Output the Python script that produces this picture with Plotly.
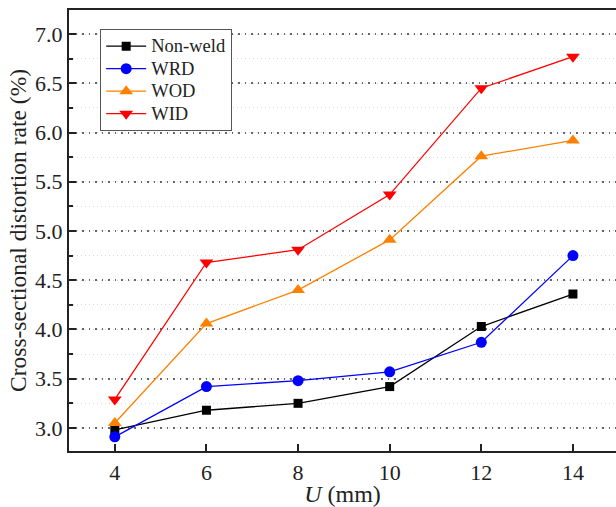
import plotly.graph_objects as go

u = [4, 6, 8, 10, 12, 14]
non_weld = [2.98, 3.18, 3.25, 3.42, 4.03, 4.36]
wrd = [2.91, 3.42, 3.48, 3.57, 3.87, 4.75]
wod = [3.05, 4.06, 4.40, 4.91, 5.76, 5.92]
wid = [3.29, 4.68, 4.81, 5.37, 6.45, 6.77]

series = [
    ("Non-weld", non_weld, "#000000", "square", 9),
    ("WRD", wrd, "#0000FF", "circle", 11),
    ("WOD", wod, "#FF8000", "triangle-up", 12),
    ("WID", wid, "#FF0000", "triangle-down", 12),
]

fig = go.Figure()
for name, vals, color, sym, sz in series:
    fig.add_trace(go.Scatter(
        x=u, y=vals, name='<span style="font-size:18.5px">' + name + '</span>',
        mode="lines+markers",
        line=dict(color=color, width=1.3),
        marker=dict(symbol=sym, size=sz, color=color),
    ))

font = "Liberation Serif, Times New Roman, serif"
fig.update_layout(
    width=616, height=507,
    margin=dict(l=69, r=0, t=10, b=56),
    paper_bgcolor="white", plot_bgcolor="white",
    font=dict(family=font, size=19, color="#222"),
    showlegend=True,
    legend=dict(x=0.057, y=0.957, xanchor="left", yanchor="top",
                bordercolor="#555", borderwidth=1, bgcolor="white",
                font=dict(family=font, size=15, color="#222"), tracegroupgap=0,
                itemwidth=40),
    xaxis=dict(range=[3, 14.94], tickvals=u, ticks="inside", ticklen=7,
               tickwidth=2, tickcolor="#222",
               showline=True, linecolor="#222", linewidth=2.2, mirror=True,
               showgrid=False, zeroline=False,
               title=dict(text="<i>U</i> (mm)", font=dict(family=font, size=24), standoff=1),
               tickfont=dict(family=font, size=22)),
    yaxis=dict(range=[2.766, 7.244], tickvals=[3.0, 3.5, 4.0, 4.5, 5.0, 5.5, 6.0, 6.5, 7.0],
               ticktext=["3.0", "3.5", "4.0", "4.5", "5.0", "5.5", "6.0", "6.5", "7.0"],
               ticks="inside", ticklen=7, tickwidth=2, tickcolor="#222",
               showline=True, linecolor="#222", linewidth=2.2, mirror=False,
               showgrid=True, gridcolor="#666", griddash="1.5px,5px", gridwidth=1.5,
               zeroline=False,
               minor=dict(dtick=0.25, tick0=2.75, showgrid=True, gridcolor="#d8d8d8",
                          griddash="1px,3px", gridwidth=1, ticks="inside", ticklen=4,
                          tickwidth=1.5, tickcolor="#222"),
               title=dict(text="Cross-sectional distortion rate (%)", font=dict(family=font, size=23.5), standoff=2),
               tickfont=dict(family=font, size=22)),
)

fig.write_html("out.html")
